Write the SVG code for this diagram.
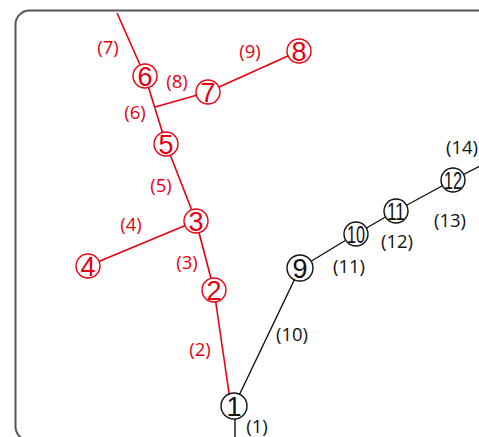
<svg xmlns="http://www.w3.org/2000/svg" width="479" height="437" viewBox="0 0 479 437">
<style>
.r{stroke:#e60012;fill:none;stroke-width:1.6}
.k{stroke:#111;fill:none;stroke-width:1.4}
.nr circle{fill:#fff;stroke:#e60012;stroke-width:1.4}
.nk circle{fill:#fff;stroke:#111;stroke-width:1.4}
.nr text{fill:#e60012}
.nk text{fill:#111}
.n text{font-family:"Liberation Sans",Arial,sans-serif;font-size:27px;text-anchor:middle}
.n text.d{font-size:24px}
.lb{font-family:"Open Sans","DejaVu Sans",sans-serif;font-size:18.5px;text-anchor:middle}
.lr{fill:#e60012}
.lk{fill:#111}
</style>
<rect x="15.5" y="10.5" width="500" height="430" rx="14" ry="14" fill="none" stroke="#555" stroke-width="2"/>
<g id="connectors">
<line class="r" x1="117" y1="13" x2="145" y2="76"/>
<line class="r" x1="145" y1="76" x2="166" y2="144"/>
<line class="r" x1="155" y1="107" x2="208" y2="92"/>
<line class="r" x1="208" y1="92" x2="299" y2="51"/>
<line class="r" x1="166" y1="144" x2="196" y2="221"/>
<line class="r" x1="196" y1="221" x2="88" y2="266"/>
<line class="r" x1="196" y1="221" x2="214" y2="290"/>
<line class="r" x1="214" y1="290" x2="230" y2="400"/>
<line class="k" x1="234" y1="406" x2="300" y2="268"/>
<line class="k" x1="235" y1="415" x2="235" y2="437"/>
<line class="k" x1="300" y1="268" x2="356" y2="234"/>
<line class="k" x1="356" y1="234" x2="396" y2="211"/>
<line class="k" x1="396" y1="211" x2="453" y2="180"/>
<line class="k" x1="453" y1="180" x2="480" y2="166"/>
</g>
<g id="n1" class="n nk"><circle cx="234" cy="406" r="13"/><text x="234" y="416">1</text></g>
<g id="n2" class="n nr"><circle cx="214" cy="290" r="12"/><text x="214" y="300">2</text></g>
<g id="n3" class="n nr"><circle cx="196" cy="221" r="12"/><text x="196" y="231">3</text></g>
<g id="n4" class="n nr"><circle cx="88" cy="266" r="12"/><text x="88" y="276">4</text></g>
<g id="n5" class="n nr"><circle cx="166" cy="144" r="12"/><text x="166" y="154">5</text></g>
<g id="n6" class="n nr"><circle cx="145" cy="76" r="12"/><text x="145" y="86">6</text></g>
<g id="n7" class="n nr"><circle cx="208" cy="92" r="12"/><text x="208" y="102">7</text></g>
<g id="n8" class="n nr"><circle cx="299" cy="51" r="12"/><text x="299" y="61">8</text></g>
<g id="n9" class="n nk"><circle cx="300" cy="268" r="13"/><text x="300" y="278">9</text></g>
<g id="n10" class="n nk"><circle cx="356" cy="234" r="12"/><text class="d" x="356" y="243" textLength="18" lengthAdjust="spacingAndGlyphs">10</text></g>
<g id="n11" class="n nk"><circle cx="396" cy="211" r="12"/><text class="d" x="396" y="220" textLength="18" lengthAdjust="spacingAndGlyphs">11</text></g>
<g id="n12" class="n nk"><circle cx="453" cy="180" r="12"/><text class="d" x="453" y="189" textLength="18" lengthAdjust="spacingAndGlyphs">12</text></g>
<g id="labels">
<text class="lb lr" x="108" y="54">(7)</text>
<text class="lb lr" x="177" y="88">(8)</text>
<text class="lb lr" x="135" y="119">(6)</text>
<text class="lb lr" x="250" y="58">(9)</text>
<text class="lb lr" x="161" y="192">(5)</text>
<text class="lb lr" x="131" y="231">(4)</text>
<text class="lb lr" x="187" y="269">(3)</text>
<text class="lb lr" x="200" y="356">(2)</text>
<text class="lb lk" x="292" y="341">(10)</text>
<text class="lb lk" x="257" y="433">(1)</text>
<text class="lb lk" x="349" y="273">(11)</text>
<text class="lb lk" x="397" y="248">(12)</text>
<text class="lb lk" x="450" y="227">(13)</text>
<text class="lb lk" x="462" y="154">(14)</text>
</g>
</svg>
